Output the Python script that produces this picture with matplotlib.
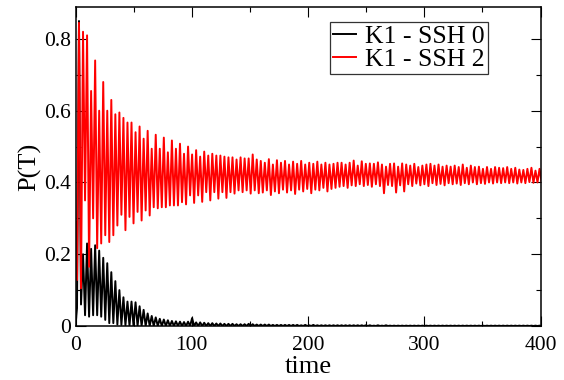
import numpy as np
import matplotlib
matplotlib.use("Agg")
import matplotlib.pyplot as plt
from matplotlib.ticker import MultipleLocator

# ---------------- data ----------------
series_labels = ["K1 - SSH 0", "K1 - SSH 2"]

start_time = [0.0, 1.3]
black_start = [0.0, 0.05]
red_start = [0.29, 0.128]

# oscillation: one peak and one trough per period
first_peak_time = 3.0
period = 3.475

red_peaks = [
    0.845, 0.82, 0.81, 0.655, 0.74, 0.60, 0.68, 0.60, 0.63, 0.59,
    0.595, 0.58, 0.567, 0.567, 0.54, 0.556, 0.522, 0.544, 0.494, 0.533,
    0.494, 0.525, 0.484, 0.517, 0.494, 0.508, 0.48, 0.50, 0.478, 0.49,
    0.472, 0.486, 0.475, 0.48, 0.475, 0.475, 0.472, 0.47, 0.47, 0.464,
    0.47, 0.467, 0.467, 0.478, 0.464,
    0.46, 0.455, 0.465, 0.45, 0.462, 0.455, 0.46, 0.45, 0.458, 0.452,
    0.46, 0.45, 0.455, 0.452, 0.458, 0.45, 0.455, 0.45, 0.452, 0.455,
    0.455, 0.45, 0.455, 0.461, 0.447, 0.459, 0.452, 0.453, 0.452, 0.456,
    0.45, 0.444, 0.452, 0.453, 0.444, 0.453, 0.45, 0.447, 0.452, 0.443,
    0.447, 0.45, 0.452, 0.447, 0.45, 0.444, 0.447, 0.444, 0.447, 0.443,
    0.45, 0.441, 0.447, 0.443, 0.444, 0.438, 0.443, 0.438, 0.443, 0.441,
    0.44, 0.443, 0.438, 0.441, 0.436, 0.435, 0.438, 0.441, 0.433, 0.438,
]
red_troughs = [
    0.105, 0.35, 0.165, 0.30, 0.217, 0.23, 0.253, 0.234, 0.253, 0.28,
    0.31, 0.267, 0.304, 0.286, 0.318, 0.294, 0.322, 0.308, 0.331, 0.328,
    0.331, 0.331, 0.336, 0.336, 0.336, 0.345, 0.339, 0.364, 0.343, 0.364,
    0.346, 0.373, 0.35, 0.373, 0.355, 0.373, 0.357, 0.373, 0.369, 0.378,
    0.373, 0.378, 0.369, 0.378, 0.37,
    0.372, 0.378, 0.365, 0.375, 0.37, 0.38, 0.372, 0.378, 0.368, 0.38,
    0.375, 0.382, 0.37, 0.38, 0.378, 0.385, 0.375, 0.382, 0.385,
    0.388, 0.39, 0.385, 0.392, 0.39, 0.395, 0.39, 0.393, 0.388, 0.395,
    0.39, 0.37, 0.393, 0.39, 0.372, 0.392, 0.375, 0.395, 0.39, 0.397,
    0.392, 0.395, 0.39, 0.398, 0.393, 0.396, 0.392, 0.398, 0.395, 0.397,
    0.393, 0.398, 0.395, 0.40, 0.395, 0.398, 0.396, 0.40, 0.397, 0.40,
    0.398, 0.40,
    0.398, 0.40, 0.397, 0.40, 0.398, 0.401, 0.399, 0.40, 0.402,
]
black_peaks = [
    0.85, 0.20, 0.23, 0.215, 0.225, 0.21, 0.19, 0.175, 0.15, 0.125,
    0.10, 0.08, 0.068, 0.068, 0.066, 0.055, 0.045, 0.035, 0.028, 0.024,
    0.02, 0.018, 0.016, 0.014, 0.013, 0.012, 0.011, 0.012, 0.022, 0.01,
    0.01, 0.009, 0.008, 0.008, 0.007, 0.007, 0.006, 0.006, 0.006, 0.005,
    0.005, 0.005, 0.006, 0.005, 0.004, 0.004, 0.004, 0.004, 0.003, 0.003,
    0.003, 0.003, 0.003, 0.003, 0.003, 0.002, 0.003, 0.002, 0.003, 0.002,
    0.002, 0.002, 0.002, 0.002, 0.002, 0.002, 0.002, 0.002, 0.002, 0.002,
    0.002, 0.002, 0.002, 0.001, 0.002, 0.001, 0.002, 0.001, 0.001, 0.001,
    0.001, 0.001, 0.001, 0.001, 0.001, 0.001, 0.001, 0.001, 0.001, 0.001,
    0.001, 0.001, 0.001, 0.001, 0.001, 0.001, 0.001, 0.001, 0.001, 0.001,
    0.001, 0.001, 0.001, 0.001, 0.001, 0.001, 0.001, 0.001, 0.001, 0.001,
    0.001, 0.001, 0.001, 0.001, 0.001,
]
black_troughs = [0.06, 0.03, 0.026, 0.03, 0.03, 0.026, 0.017, 0.008, 0.008,
                 0.004, 0.003, 0.002, 0.001] + [0.0] * 102

x_ticks = [0, 100, 200, 300, 400]
y_ticks = [0, 0.2, 0.4, 0.6, 0.8]
y_tick_labels = ["0", "0.2", "0.4", "0.6", "0.8"]

# ---------------- build series ----------------
n = len(red_peaks)
peak_t = first_peak_time + period * np.arange(n)
trough_t = peak_t + period / 2.0
osc_t = np.column_stack([peak_t, trough_t]).ravel()


def series(start, peaks, troughs):
    v = np.column_stack([np.asarray(peaks), np.asarray(troughs)]).ravel()
    return np.concatenate([start_time, osc_t]), np.concatenate([start, v])


t_black, v_black = series(black_start, black_peaks, black_troughs)
t_red, v_red = series(red_start, red_peaks, red_troughs)

# ---------------- plot ----------------
plt.rcParams['font.family'] = ['Liberation Serif', 'DejaVu Serif']

fig = plt.figure(figsize=(5.64, 3.80), dpi=100)
ax = fig.add_axes([75.5 / 564, 54 / 380, 465 / 564, 319 / 380])

ax.plot(t_black, v_black, color='black', lw=1.4, label=series_labels[0])
ax.plot(t_red, v_red, color='#ff0000', lw=1.4, label=series_labels[1])

ax.set_xlim(0, 400)
ax.set_ylim(0, 0.889)
ax.set_xticks(x_ticks)
ax.set_xticklabels([str(v) for v in x_ticks])
ax.set_yticks(y_ticks)
ax.set_yticklabels(y_tick_labels)
ax.xaxis.set_minor_locator(MultipleLocator(50))
ax.yaxis.set_minor_locator(MultipleLocator(0.1))
ax.tick_params(which='both', direction='in', top=True, right=True,
               labelsize=15.5, width=0.8)
ax.tick_params(axis='x', which='major', pad=7)
ax.tick_params(axis='y', which='major', pad=3)
ax.tick_params(which='major', length=7.2)
ax.tick_params(which='minor', length=3.6)
for s in ax.spines.values():
    s.set_linewidth(1.1)

ax.set_xlabel("time", fontsize=19, labelpad=1)
ax.set_ylabel("P(T)", fontsize=19, labelpad=2)

leg = ax.legend(loc='upper left', bbox_to_anchor=(330 / 564, 1 - 22 / 380),
                bbox_transform=fig.transFigure, fontsize=18.5,
                frameon=True, fancybox=False, handlelength=0.9,
                handletextpad=0.35, borderpad=0.12, labelspacing=0.0,
                borderaxespad=0)
leg.get_frame().set_edgecolor('black')
leg.get_frame().set_linewidth(0.9)
for h in leg.get_lines():
    h.set_linewidth(1.4)

fig.savefig("out.png", dpi=100)
